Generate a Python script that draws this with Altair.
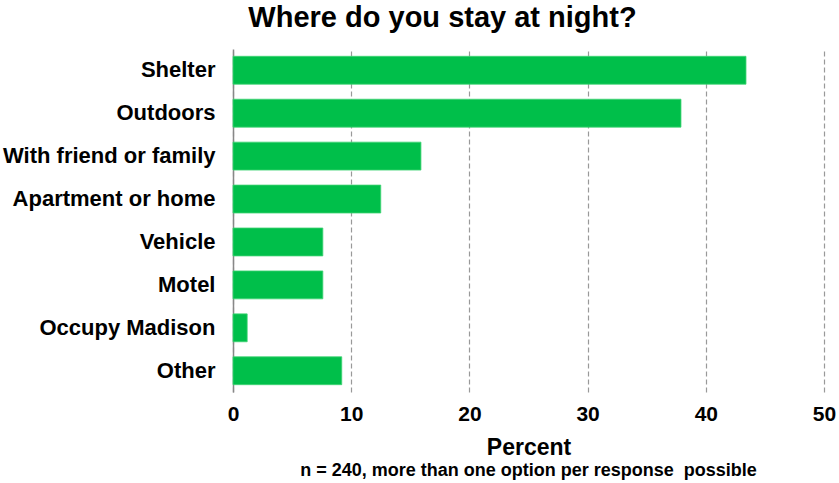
import altair as alt
import pandas as pd

categories = ["Shelter", "Outdoors", "With friend or family", "Apartment or home",
              "Vehicle", "Motel", "Occupy Madison", "Other"]
values = [43.4, 37.9, 15.9, 12.5, 7.6, 7.6, 1.2, 9.2]
x_ticks = [0, 10, 20, 30, 40, 50]
title_text = "Where do you stay at night?"
axis_title = "Percent"
note_text = "n = 240, more than one option per response\u00a0 possible"

df = pd.DataFrame({"category": categories, "value": values})
FONT = "Liberation Sans"
W, H = 591, 343

bars = alt.Chart(df).mark_bar(color="#00BF4A", stroke="#3fd373", strokeWidth=0.8).encode(
    y=alt.Y("category:N", sort=categories,
            scale=alt.Scale(paddingInner=0.35, paddingOuter=0.17),
            axis=alt.Axis(title=None, labelFont=FONT, labelFontSize=22, labelFontWeight="bold",
                          labelColor="#000", labelPadding=18, ticks=False, grid=False,
                          domainColor="#888", domainWidth=1.5, labelLimit=400)),
    x=alt.X("value:Q", scale=alt.Scale(domain=[0, 50], nice=False),
            axis=alt.Axis(values=x_ticks, title=axis_title, titleFont=FONT, titleFontSize=23,
                          titleFontWeight="bold", titleColor="#000", titlePadding=12,
                          labelFont=FONT, labelFontSize=21, labelFontWeight="bold",
                          labelColor="#000", labelPadding=11, labelFlush=False,
                          ticks=False, domain=False,
                          grid=True, gridColor="#999", gridDash=[5, 3], gridWidth=1.2)),
)

note = alt.Chart(pd.DataFrame({"t": [note_text]})).mark_text(
    font=FONT, fontSize=18, fontWeight="bold", color="#000", baseline="middle"
).encode(text="t:N", x=alt.value(W / 2), y=alt.value(H + 79))

chart = alt.layer(bars, note).properties(
    width=W, height=H,
    title=alt.TitleParams(title_text, font=FONT, fontSize=29, fontWeight="bold", color="#000",
                          anchor="middle", dx=-86, offset=16),
    autosize=alt.AutoSizeParams(type="none"),
    padding={"left": 233, "top": 49, "right": 15, "bottom": 91},
).configure_view(stroke=None)

chart.save("out.html", embed_options={"renderer": "svg", "actions": False})
